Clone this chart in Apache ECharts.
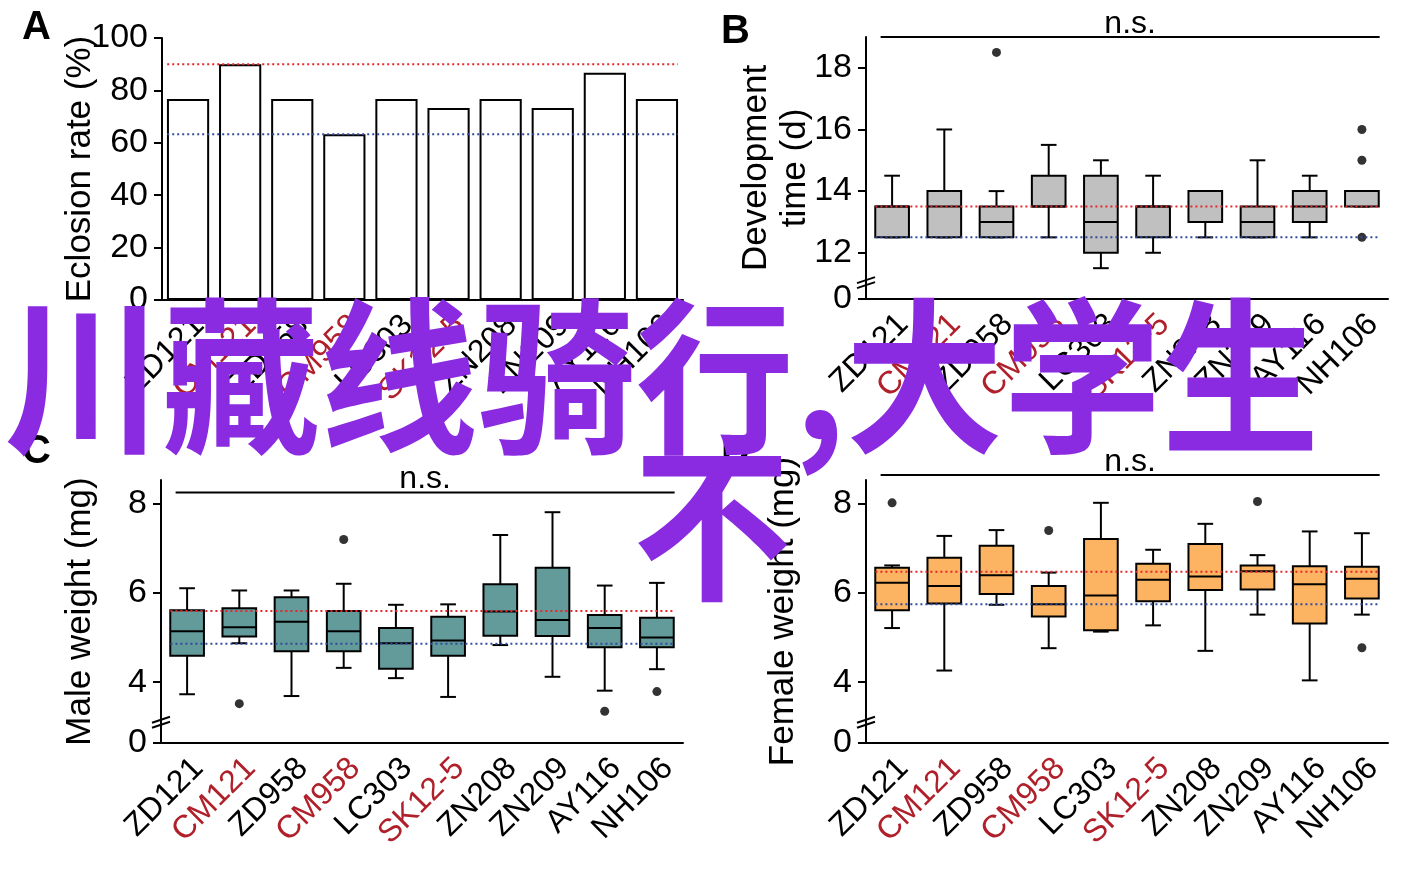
<!DOCTYPE html>
<html><head><meta charset="utf-8">
<script src="https://cdn.jsdelivr.net/npm/echarts@6.0.0/dist/echarts.min.js"></script>
<style>html,body{margin:0;padding:0;background:#fff}#c{width:1418px;height:869px}</style>
</head><body><div id="c"></div>
<script>
// ---------------- data ----------------
const categories = ['ZD121','CM121','ZD958','CM958','LC303','SK12-5','ZN208','ZN209','AY116','NH106'];
const redLabels = ['CM121','CM958','SK12-5'];

const eclosionRate = [76.7, 90, 76.7, 63.3, 76.7, 73.3, 76.7, 73.3, 86.7, 76.7];
const eclosionRef = [90, 63.3];          // [red, blue]
const eclosionTicks = [0, 20, 40, 60, 80, 100];

// box data: [min, Q1, median, Q3, max]
const devTime = [
  [12.5, 12.5, 13.5, 13.5, 14.5],
  [12.5, 12.5, 13.5, 14, 16],
  [12.5, 12.5, 13, 13.5, 14],
  [12.5, 13.5, 13.5, 14.5, 15.5],
  [11.5, 12, 13, 14.5, 15],
  [12, 12.5, 13.5, 13.5, 14.5],
  [12.5, 13, 14, 14, 14],
  [12.5, 12.5, 13, 13.5, 15],
  [12.5, 13, 13.5, 14, 14.5],
  [13.5, 13.5, 14, 14, 14]
];
const devOutliers = [['ZD958', 18.5], ['NH106', 16], ['NH106', 15], ['NH106', 12.5]];
const devRef = [13.5, 12.5];
const devTicks = [12, 14, 16, 18];
const devFloor = 10.5;   // axis break, labelled 0
const devTop = 19;
const devNs = 19;

const maleWeight = [
  [3.73, 4.59, 5.14, 5.61, 6.10],
  [4.87, 5.02, 5.23, 5.65, 6.05],
  [3.69, 4.69, 5.35, 5.90, 6.05],
  [4.32, 4.69, 5.14, 5.59, 6.20],
  [4.09, 4.30, 4.87, 5.21, 5.73],
  [3.67, 4.59, 4.93, 5.46, 5.74],
  [4.83, 5.04, 5.58, 6.19, 7.29],
  [4.12, 5.03, 5.39, 6.56, 7.80],
  [3.81, 4.78, 5.21, 5.50, 6.16],
  [4.29, 4.78, 5.00, 5.44, 6.22]
];
const maleOutliers = [['CM121', 3.52], ['CM958', 7.19], ['AY116', 3.35], ['NH106', 3.79]];
const maleRef = [5.59, 4.86];
const maleNs = 8.24;

const femaleWeight = [
  [5.21, 5.61, 6.22, 6.56, 6.61],
  [4.26, 5.76, 6.15, 6.78, 7.27],
  [5.73, 5.97, 6.39, 7.05, 7.40],
  [4.76, 5.47, 5.74, 6.15, 6.45],
  [5.13, 5.16, 5.94, 7.20, 8.01],
  [5.27, 5.81, 6.29, 6.65, 6.96],
  [4.70, 6.06, 6.36, 7.09, 7.54],
  [5.51, 6.07, 6.48, 6.61, 6.84],
  [4.04, 5.31, 6.19, 6.59, 7.37],
  [5.51, 5.87, 6.31, 6.58, 7.33]
];
const femaleOutliers = [['ZD121', 8.01], ['CM958', 7.39], ['ZN209', 8.04], ['NH106', 4.77]];
const femaleRef = [6.47, 5.74];
const femaleNs = 8.63;

const weightTicks = [4, 6, 8];
const weightFloor = 2.64;  // axis break, labelled 0
const weightTop = 8.52;

const overlayLine1 = '川藏线骑行,大学生';
const overlayLine2 = '不';

// ---------------- styling ----------------
const FONT = 'Liberation Sans, Arial, Helvetica, sans-serif';
const RED = '#E5262A', BLUE = '#2F4C9E', LABEL_RED = '#B0202A';
const grids = [
  {left: 162, top: 38, width: 521, height: 262},
  {left: 866, top: 37, width: 522, height: 262},
  {left: 161, top: 480, width: 522, height: 263},
  {left: 866, top: 480, width: 522, height: 263}
];

const chart = echarts.init(document.getElementById('c'), null, {renderer: 'canvas'});

function xAxis(i) {
  return {
    type: 'category', gridIndex: i, data: categories,
    axisLine: {lineStyle: {color: '#000', width: 2}},
    axisTick: {alignWithLabel: true, length: 8, lineStyle: {color: '#000', width: 2}},
    axisLabel: {
      rotate: 45, margin: 9, interval: 0, fontSize: 32, fontFamily: FONT,
      align: 'right', verticalAlign: 'top',
      color: (v) => redLabels.includes(v) ? LABEL_RED : '#000'
    }
  };
}
function yAxis(i, name, min, max, ticks, floor, nameGap) {
  const vals = floor != null ? [floor].concat(ticks) : ticks;
  return {
    type: 'value', gridIndex: i, min: min, max: max,
    name: name, nameLocation: 'middle', nameGap: nameGap, nameMoveOverlap: false,
    nameTextStyle: {fontSize: 35, fontFamily: FONT, color: '#000', lineHeight: 39},
    splitLine: {show: false},
    axisLine: {show: true, lineStyle: {color: '#000', width: 2}},
    axisTick: {show: true, length: 8, customValues: vals, lineStyle: {color: '#000', width: 2}},
    axisLabel: {
      margin: 14, fontSize: 34, fontFamily: FONT, color: '#000', customValues: vals,
      formatter: (v) => (floor != null && Math.abs(v - floor) < 1e-6) ? '0' : String(v)
    }
  };
}

function boxSeries(i, data, fill) {
  return {
    type: 'custom', xAxisIndex: i, yAxisIndex: i, z: 3,
    data: data.map((d, k) => [k].concat(d)),
    encode: {x: 0, y: [1, 2, 3, 4, 5]},
    renderItem: function (params, api) {
      const x = api.value(0);
      const band = api.size([1, 0])[0];
      const w = band * 0.645, cap = band * 0.30;
      const cx = api.coord([x, api.value(3)])[0];
      const yMin = api.coord([x, api.value(1)])[1];
      const yQ1 = api.coord([x, api.value(2)])[1];
      const yMed = api.coord([x, api.value(3)])[1];
      const yQ3 = api.coord([x, api.value(4)])[1];
      const yMax = api.coord([x, api.value(5)])[1];
      const ls = {stroke: '#000', lineWidth: 2};
      return {type: 'group', children: [
        {type: 'line', shape: {x1: cx, y1: yQ3, x2: cx, y2: yMax}, style: ls},
        {type: 'line', shape: {x1: cx - cap / 2, y1: yMax, x2: cx + cap / 2, y2: yMax}, style: ls},
        {type: 'line', shape: {x1: cx, y1: yQ1, x2: cx, y2: yMin}, style: ls},
        {type: 'line', shape: {x1: cx - cap / 2, y1: yMin, x2: cx + cap / 2, y2: yMin}, style: ls},
        {type: 'rect', shape: {x: cx - w / 2, y: yQ3, width: w, height: yQ1 - yQ3},
          style: {fill: fill, stroke: '#000', lineWidth: 2}},
        {type: 'line', shape: {x1: cx - w / 2, y1: yMed, x2: cx + w / 2, y2: yMed}, style: ls}
      ]};
    }
  };
}
function outlierSeries(i, data) {
  return {
    type: 'scatter', xAxisIndex: i, yAxisIndex: i, z: 4, symbolSize: 9,
    itemStyle: {color: '#000'}, data: data, silent: true
  };
}
function refSeries(i, refs, halfFrac) {
  const colors = [RED, BLUE];
  return {
    type: 'custom', xAxisIndex: i, yAxisIndex: i, z: 6, silent: true,
    data: refs.map((v) => [0, v]),
    encode: {x: 0, y: 1},
    renderItem: function (params, api) {
      const v = api.value(1);
      const band = api.size([1, 0])[0];
      const p0 = api.coord([0, v]);
      const p1 = api.coord([categories.length - 1, v]);
      return {type: 'line',
        shape: {x1: p0[0] - band * halfFrac, y1: p0[1], x2: p1[0] + band * halfFrac, y2: p1[1]},
        style: {stroke: colors[params.dataIndex], lineWidth: 2, lineDash: [2, 3]}};
    }
  };
}
function nsSeries(i, level) {
  return {
    type: 'custom', xAxisIndex: i, yAxisIndex: i, z: 6, silent: true, clip: false,
    data: [[0, level]], encode: {x: 0, y: 1},
    renderItem: function (params, api) {
      const v = api.value(1);
      const band = api.size([1, 0])[0];
      const p0 = api.coord([0, v]);
      const p1 = api.coord([categories.length - 1, v]);
      const x1 = p0[0] - band * 0.22, x2 = p1[0] + band * 0.34;
      return {type: 'group', children: [
        {type: 'line', shape: {x1: x1, y1: p0[1], x2: x2, y2: p0[1]}, style: {stroke: '#000', lineWidth: 2}},
        {type: 'text', x: (x1 + x2) / 2, y: p0[1] + 3,
          style: {text: 'n.s.', fontSize: 32, fontFamily: FONT, fill: '#000', align: 'center', verticalAlign: 'bottom'}}
      ]};
    }
  };
}

const option = {
  animation: false,
  backgroundColor: '#fff',
  grid: grids.map((g) => Object.assign({containLabel: false}, g)),
  xAxis: [xAxis(0), xAxis(1), xAxis(2), xAxis(3)],
  yAxis: [
    Object.assign(yAxis(0, 'Eclosion rate (%)', 0, 100, eclosionTicks, null, 62), {interval: 20}),
    yAxis(1, 'Development\ntime (d)', devFloor, devTop, devTicks, devFloor, 51),
    yAxis(2, 'Male weight (mg)', weightFloor, weightTop, weightTicks, weightFloor, 61),
    yAxis(3, 'Female weight (mg)', weightFloor, weightTop, weightTicks, weightFloor, 63)
  ],
  series: [
    {type: 'bar', xAxisIndex: 0, yAxisIndex: 0, data: eclosionRate, barWidth: '81%', z: 2,
      itemStyle: {color: '#fff', borderColor: '#000', borderWidth: 2}},
    refSeries(0, eclosionRef, 0.4),
    boxSeries(1, devTime, '#C0C0C0'),
    outlierSeries(1, devOutliers),
    refSeries(1, devRef, 0.32),
    nsSeries(1, devNs),
    boxSeries(2, maleWeight, '#639A9A'),
    outlierSeries(2, maleOutliers),
    refSeries(2, maleRef, 0.32),
    nsSeries(2, maleNs),
    boxSeries(3, femaleWeight, '#FDB462'),
    outlierSeries(3, femaleOutliers),
    refSeries(3, femaleRef, 0.32),
    nsSeries(3, femaleNs)
  ]
};
chart.setOption(option);

// decorations: panel letters, axis breaks, overlay text
function breakMark(axisIdx, floor, firstTick) {
  const yb = chart.convertToPixel({yAxisIndex: axisIdx}, floor + (firstTick - floor) * 0.3);
  const xa = grids[axisIdx].left;
  return {type: 'group', z: 50, children: [
    {type: 'polygon', shape: {points: [[xa - 9, yb + 3], [xa + 9, yb - 3], [xa + 9, yb - 8], [xa - 9, yb - 2]]},
      style: {fill: '#fff'}},
    {type: 'line', shape: {x1: xa - 9, y1: yb + 3, x2: xa + 9, y2: yb - 3}, style: {stroke: '#000', lineWidth: 2}},
    {type: 'line', shape: {x1: xa - 9, y1: yb - 2, x2: xa + 9, y2: yb - 8}, style: {stroke: '#000', lineWidth: 2}}
  ]};
}
function letter(t, x, y) {
  return {type: 'text', x: x, y: y, z: 50,
    style: {text: t, fontSize: 40, fontWeight: 'bold', fontFamily: FONT, fill: '#000', align: 'left', verticalAlign: 'middle'}};
}
chart.setOption({
  graphic: [
    letter('A', 22, 28), letter('B', 721, 32), letter('C', 22, 452), letter('D', 721, 453),
    breakMark(1, devFloor, devTicks[0]),
    breakMark(2, weightFloor, weightTicks[0]),
    breakMark(3, weightFloor, weightTicks[0]),
    {type: 'text', x: 4, y: 376, z: 100, scaleY: 1.06,
      style: {text: overlayLine1, fontSize: 158, fontWeight: 'bold', fontFamily: 'Noto Sans CJK SC',
        fill: '#8A2BE2', align: 'left', verticalAlign: 'middle'}},
    {type: 'text', x: 712, y: 523, z: 100, scaleY: 1.06,
      style: {text: overlayLine2, fontSize: 158, fontWeight: 'bold', fontFamily: 'Noto Sans CJK SC',
        fill: '#8A2BE2', align: 'center', verticalAlign: 'middle'}}
  ]
});
</script>
</body></html>
